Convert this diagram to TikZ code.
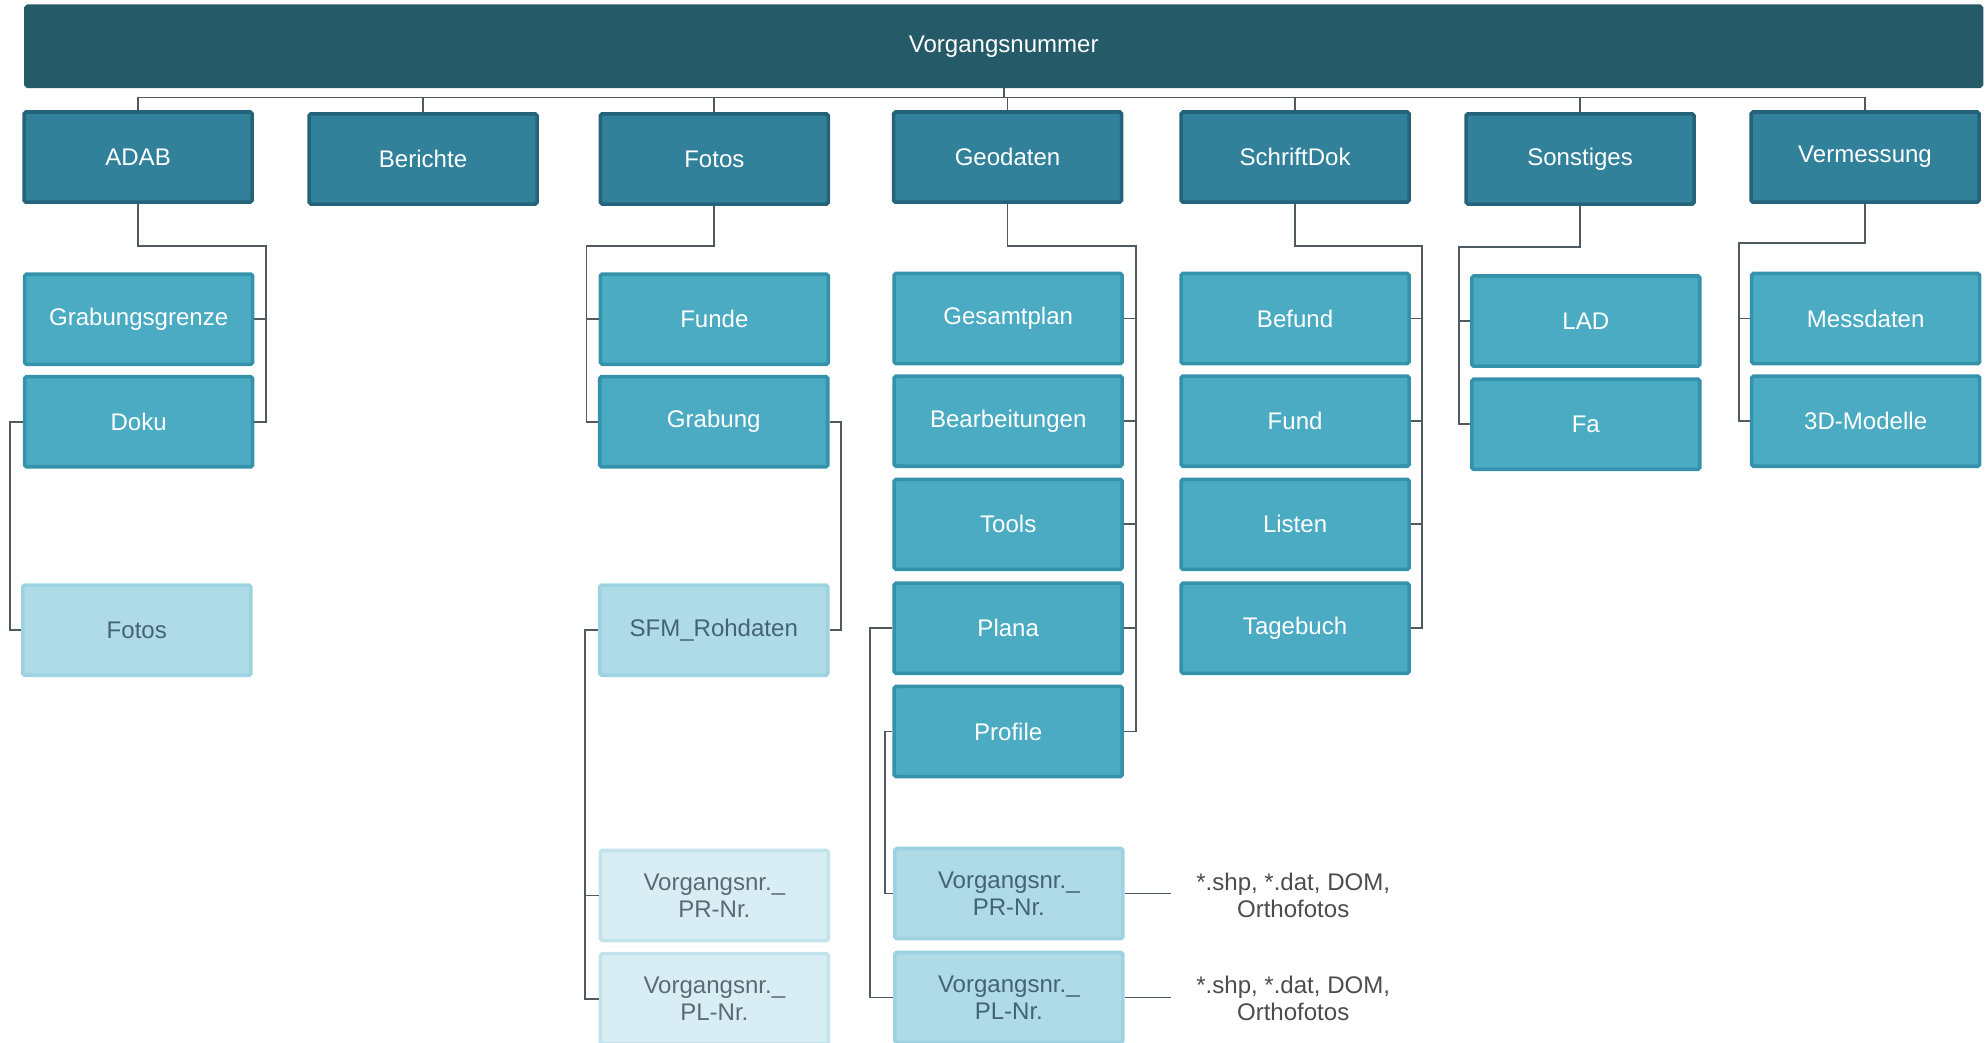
\documentclass[tikz,border=0pt]{standalone}
\usepackage{fontspec}
\setmainfont{Liberation Sans}

\definecolor{barcol}{HTML}{255A69}
\definecolor{headcol}{HTML}{31819A}
\definecolor{headline}{HTML}{25637A}
\definecolor{subcol}{HTML}{4AABC3}
\definecolor{subline}{HTML}{3592AB}
\definecolor{lightcol}{HTML}{AFDBE6}
\definecolor{lightline}{HTML}{9DD3E1}
\definecolor{lighttext}{HTML}{44627A}
\definecolor{palecol}{HTML}{D9EEF4}
\definecolor{paleline}{HTML}{C2E3EC}
\definecolor{paletext}{HTML}{5B6A74}
\definecolor{wirecol}{HTML}{4F5B60}

\tikzset{
  folder/.style={draw, line width=2pt, rounded corners=1pt, minimum width=45mm, minimum height=17.8mm,
    inner sep=0pt, align=center, font=\fontsize{13.5}{15}\selectfont},
  head/.style={folder, fill=headcol, draw=headline, text=white},
  sub/.style={folder, fill=subcol, draw=subline, text=white},
  light/.style={folder, fill=lightcol, draw=lightline, text=lighttext},
  pale/.style={folder, fill=palecol, draw=paleline, text=paletext},
  note/.style={inner sep=5mm, align=center, text=black!70, font=\fontsize{13.5}{15}\selectfont},
  wire/.style={draw=wirecol, line width=1pt}
}

\begin{document}
\begin{tikzpicture}[x=0.25mm, y=-0.25mm]
    \useasboundingbox (0,0) rectangle (1568,823);

    % top bar
    \node[folder, fill=barcol, draw=barcol, text=white, minimum width=386mm, minimum height=15.8mm] (bar) at (792.5,36.5) {Vorgangsnummer};
    \coordinate (bus) at (792.5,77);

    % first level
    \node[head] (adab) at (109,124) {ADAB};
    \node[head] (berichte) at (334,125.5) {Berichte};
    \node[head] (fotos) at (564,125.5) {Fotos};
    \node[head] (geodaten) at (795.5,124) {Geodaten};
    \node[head] (schriftdok) at (1022.5,124) {SchriftDok};
    \node[head] (sonstiges) at (1247.5,125.5) {Sonstiges};
    \node[head] (vermessung) at (1472.5,124) {Vermessung};

    % second level
    \node[sub] (grabungsgrenze) at (109.5,252) {Grabungsgrenze};
    \node[sub] (doku) at (109.5,333) {Doku};
    \node[sub] (funde) at (564,252) {Funde};
    \node[sub] (grabung) at (563.5,333) {Grabung};
    \node[sub] (gesamtplan) at (796,251.5) {Gesamtplan};
    \node[sub] (bearbeitungen) at (796,332.5) {Bearbeitungen};
    \node[sub] (tools) at (796,414) {Tools};
    \node[sub] (plana) at (796,496) {Plana};
    \node[sub] (profile) at (796,577.5) {Profile};
    \node[sub] (befund) at (1022.5,251.5) {Befund};
    \node[sub] (fund) at (1022.5,332.5) {Fund};
    \node[sub] (listen) at (1022.5,414) {Listen};
    \node[sub] (tagebuch) at (1022.5,496) {Tagebuch};
    \node[sub] (lad) at (1252,253.5) {LAD};
    \node[sub] (fa) at (1252,335) {Fa};
    \node[sub] (messdaten) at (1473,251.5) {Messdaten};
    \node[sub] (modelle) at (1473,332.5) {3D-Modelle};

    % third level
    \node[light] (dokufotos) at (108,497.5) {Fotos};
    \node[light] (sfm) at (563.5,497.5) {SFM\_Rohdaten};
    \node[light] (geopr) at (796.5,705.5) {Vorgangsnr.\_\\PR-Nr.};
    \node[light] (geopl) at (796.5,787.5) {Vorgangsnr.\_\\PL-Nr.};
    \node[pale] (sfmpr) at (564,707) {Vorgangsnr.\_\\PR-Nr.};
    \node[pale] (sfmpl) at (564,788.5) {Vorgangsnr.\_\\PL-Nr.};

    \node[note] (notepr) at (1021,707) {*.shp, *.dat, DOM,\\Orthofotos};
    \node[note] (notepl) at (1021,788) {*.shp, *.dat, DOM,\\Orthofotos};

    % connectors
    \draw[wire] (bar.south) -- (bus);
    \foreach \n in {adab,berichte,fotos,geodaten,schriftdok,sonstiges,vermessung}
        \draw[wire] (bus) -| (\n.north);

    \coordinate (adabk) at (210,194);
    \draw[wire] (adab.south) |- (adabk) |- (doku.east);
    \draw[wire] (grabungsgrenze.east) -- (grabungsgrenze.east -| adabk);
    \coordinate (dokuk) at (8,333);
    \draw[wire] (doku.west) -- (dokuk) |- (dokufotos.west);

    \coordinate (fotosk) at (463,194);
    \draw[wire] (fotos.south) |- (fotosk) |- (grabung.west);
    \draw[wire] (funde.west) -- (funde.west -| fotosk);
    \coordinate (grabungk) at (664,333);
    \draw[wire] (grabung.east) -- (grabungk) |- (sfm.east);
    \coordinate (sfmk) at (462,497.5);
    \draw[wire] (sfm.west) -- (sfmk) |- (sfmpl.west);
    \draw[wire] (sfmpr.west) -- (sfmpr.west -| sfmk);

    \coordinate (geok) at (897,194);
    \draw[wire] (geodaten.south) |- (geok) |- (profile.east);
    \foreach \n in {gesamtplan,bearbeitungen,tools,plana}
        \draw[wire] (\n.east) -- (\n.east -| geok);
    \coordinate (planak) at (687,496);
    \draw[wire] (plana.west) -- (planak) |- (geopl.west);
    \coordinate (profilek) at (699,577.5);
    \draw[wire] (profile.west) -- (profilek) |- (geopr.west);
    \draw[wire] (geopr.east) -- (geopr.east -| notepr.west);
    \draw[wire] (geopl.east) -- (geopl.east -| notepl.west);

    \coordinate (schriftk) at (1123,194);
    \draw[wire] (schriftdok.south) |- (schriftk) |- (tagebuch.east);
    \foreach \n in {befund,fund,listen}
        \draw[wire] (\n.east) -- (\n.east -| schriftk);

    \coordinate (sonstk) at (1152,195);
    \draw[wire] (sonstiges.south) |- (sonstk) |- (fa.west);
    \draw[wire] (lad.west) -- (lad.west -| sonstk);

    \coordinate (vermk) at (1373,192);
    \draw[wire] (vermessung.south) |- (vermk) |- (modelle.west);
    \draw[wire] (messdaten.west) -- (messdaten.west -| vermk);
\end{tikzpicture}
\end{document}
